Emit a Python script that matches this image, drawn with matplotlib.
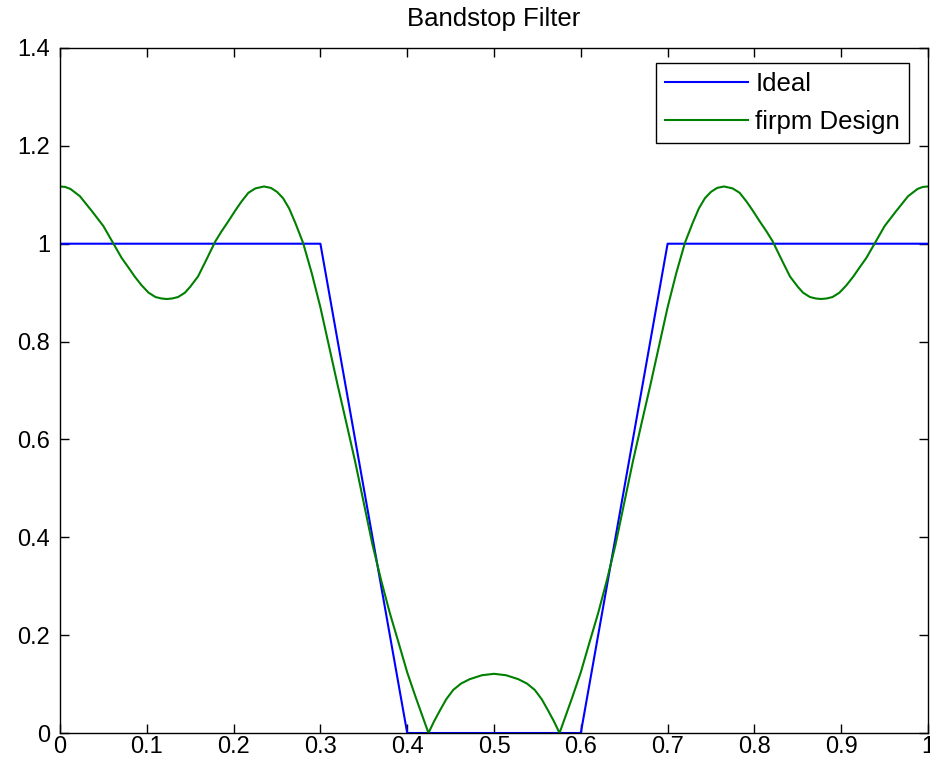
import numpy as np
import matplotlib.pyplot as plt

# ideal bandstop response (band edges)
ideal_f = [0, 0.3, 0.4, 0.6, 0.7, 1]
ideal_a = [1, 1, 0, 0, 1, 1]

# firpm design magnitude response
firpm_f = [0.000, 0.006, 0.012, 0.023, 0.037, 0.050, 0.060, 0.071, 0.079, 0.086,
           0.094, 0.102, 0.110, 0.117, 0.123, 0.129, 0.136, 0.144, 0.150, 0.159,
           0.168, 0.179, 0.186, 0.194, 0.202, 0.209, 0.217, 0.225, 0.235, 0.243,
           0.250, 0.257, 0.264, 0.271, 0.280, 0.290, 0.300, 0.310, 0.320, 0.330,
           0.340, 0.350, 0.360, 0.370, 0.380, 0.390, 0.400, 0.410, 0.4245, 0.431,
           0.438, 0.445, 0.453, 0.462, 0.472, 0.486, 0.500,
           0.514, 0.528, 0.538, 0.547, 0.555, 0.562, 0.569, 0.5755, 0.590, 0.600,
           0.610, 0.620, 0.630, 0.640, 0.650, 0.660, 0.670, 0.680, 0.690, 0.700,
           0.710, 0.720, 0.729, 0.736, 0.743, 0.750, 0.757, 0.765, 0.775, 0.783,
           0.791, 0.798, 0.806, 0.814, 0.821, 0.832, 0.841, 0.850, 0.856, 0.864,
           0.871, 0.877, 0.883, 0.890, 0.898, 0.906, 0.914, 0.921, 0.929, 0.940,
           0.950, 0.963, 0.977, 0.988, 0.994, 1.000]
firpm_a = [1.117, 1.116, 1.112, 1.097, 1.066, 1.036, 1.005, 0.971, 0.951, 0.933,
           0.915, 0.900, 0.891, 0.888, 0.887, 0.888, 0.891, 0.900, 0.912, 0.933,
           0.965, 1.005, 1.025, 1.046, 1.068, 1.086, 1.104, 1.113, 1.117, 1.114,
           1.106, 1.093, 1.072, 1.043, 1.002, 0.940, 0.870, 0.790, 0.710, 0.633,
           0.555, 0.470, 0.385, 0.312, 0.245, 0.185, 0.124, 0.072, 0.000, 0.024,
           0.047, 0.069, 0.088, 0.101, 0.110, 0.118, 0.121,
           0.118, 0.110, 0.101, 0.088, 0.069, 0.047, 0.024, 0.000, 0.072, 0.124,
           0.185, 0.245, 0.312, 0.385, 0.470, 0.555, 0.633, 0.710, 0.790, 0.870,
           0.940, 1.002, 1.043, 1.072, 1.093, 1.106, 1.114, 1.117, 1.113, 1.104,
           1.086, 1.068, 1.046, 1.025, 1.005, 0.965, 0.933, 0.912, 0.900, 0.891,
           0.888, 0.887, 0.888, 0.891, 0.900, 0.915, 0.933, 0.951, 0.971, 1.005,
           1.036, 1.066, 1.097, 1.112, 1.116, 1.117]

plt.rcParams['font.family'] = ['Liberation Sans', 'DejaVu Sans']
plt.rcParams['font.size'] = 17

fig = plt.figure(figsize=(9.3, 7.68), dpi=100)
ax = fig.add_axes([60/930, 35/768, 868/930, 685/768])

ax.plot(ideal_f, ideal_a, color=(0, 0, 1), linewidth=1.5, label='Ideal')
ax.plot(firpm_f, firpm_a, color=(0, 0.5, 0), linewidth=1.5, label='firpm Design')

ax.set_xlim(0, 1)
ax.set_ylim(0, 1.4)
ax.set_xticks(np.arange(0, 1.01, 0.1))
ax.set_xticklabels(['0', '0.1', '0.2', '0.3', '0.4', '0.5', '0.6', '0.7', '0.8', '0.9', '1'])
ax.set_yticks(np.arange(0, 1.41, 0.2))
ax.set_yticklabels(['0', '0.2', '0.4', '0.6', '0.8', '1', '1.2', '1.4'])
ax.tick_params(direction='in', length=6.5, width=1, top=True, right=True)
ax.tick_params(axis='x', pad=2)
ax.tick_params(axis='y', pad=7)
for s in ax.spines.values():
    s.set_linewidth(1)
ax.set_title('Bandstop Filter', pad=16, fontsize=18.5)

leg = ax.legend(loc='upper right', bbox_to_anchor=(909/930, 1 - 63/768),
                bbox_transform=fig.transFigure, borderaxespad=0,
                fancybox=False, framealpha=1, edgecolor='black', fontsize=18.5,
                handlelength=3.2, handletextpad=0.3, borderpad=0.35,
                labelspacing=0.55)
leg.get_frame().set_linewidth(1)

fig.savefig('out.png', dpi=100)
